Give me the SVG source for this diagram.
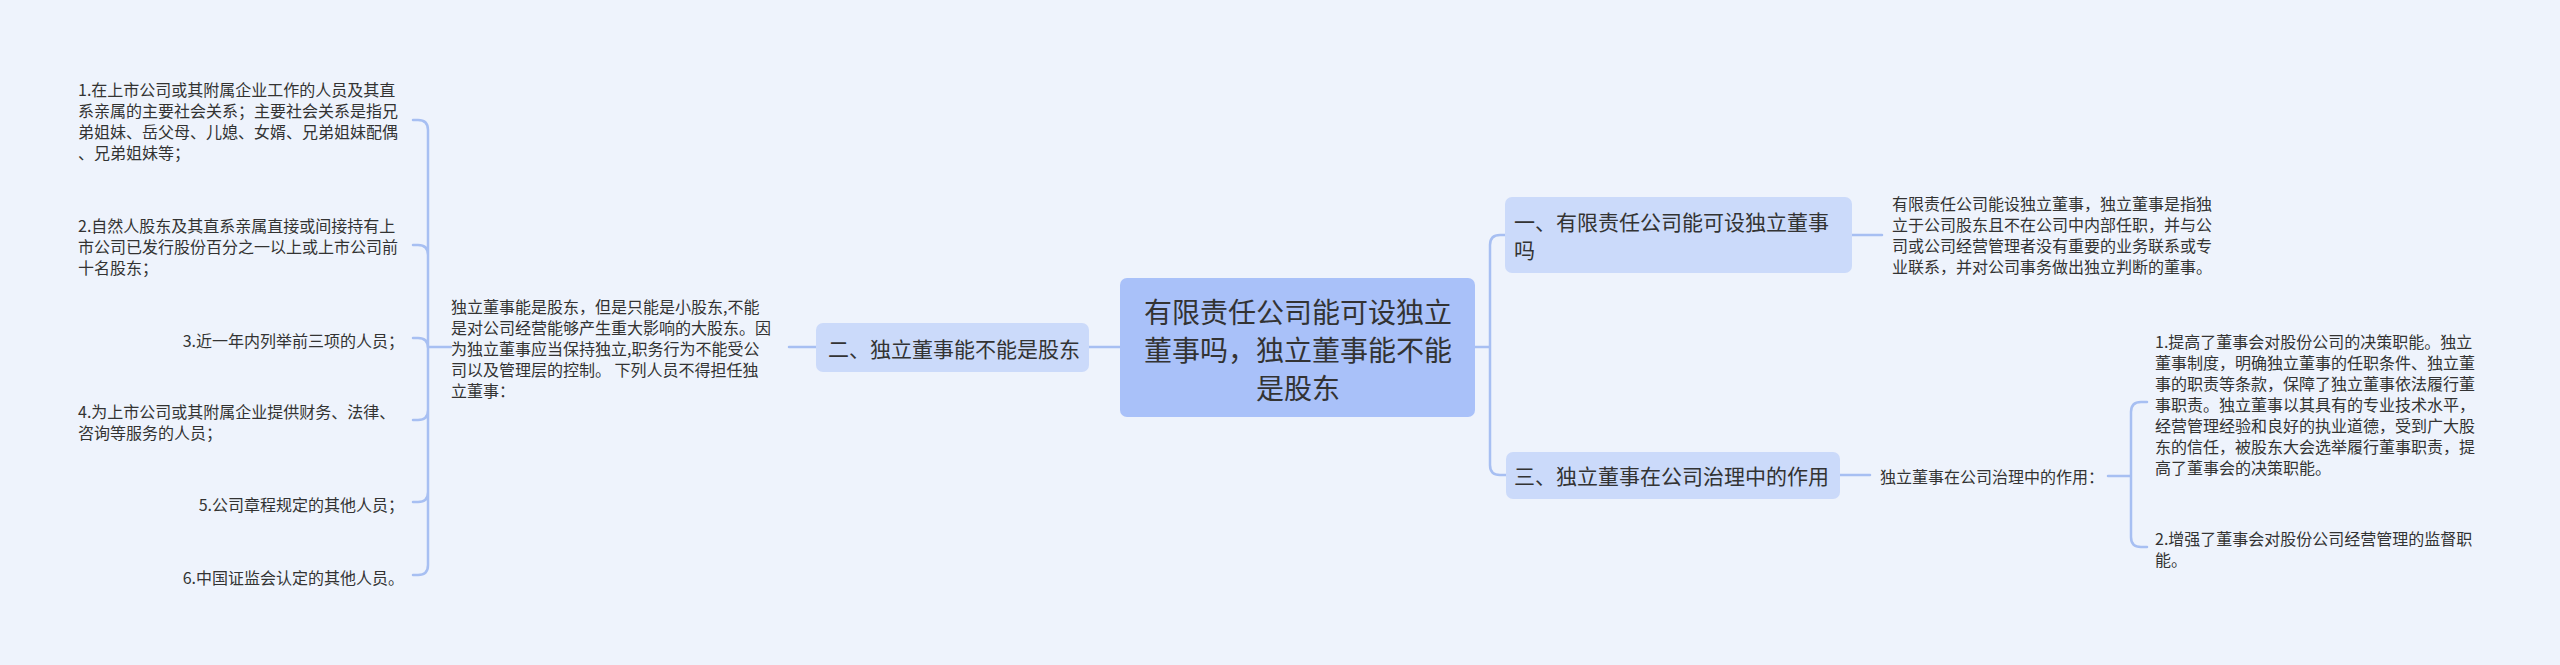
<svg xmlns="http://www.w3.org/2000/svg" width="2560" height="665" viewBox="0 0 2560 665">
<style>
text{font-family:"Noto Sans CJK SC","Noto Sans",sans-serif;fill:#333;dominant-baseline:central}
.c{font-size:28px;text-anchor:middle}
.m{font-size:21px}
.s{font-size:16px}
.e{text-anchor:end}
.ln{fill:none;stroke:#a7bff2;stroke-width:2.5;stroke-linecap:round}
</style>
<rect width="2560" height="665" fill="#eef3fc"/>
<g id="connectors" class="ln">
<path d="M1475 347H1490M1490 347V245Q1490 235 1500 235H1505M1490 347V465Q1490 475 1500 475H1506"/>
<path d="M1852 235H1882"/>
<path d="M1840 475H1870"/>
<path d="M2108 476H2131M2131 476V412Q2131 402 2141 402H2147M2131 476V537Q2131 547 2141 547H2147"/>
<path d="M1120 347H1089"/>
<path d="M816 347H789"/>
<path d="M451 347H428"/>
<path d="M428 347V130Q428 120 418 120H413M428 347V255Q428 245 418 245H413M428 347V348Q428 338 418 338H413M428 347V410Q428 420 418 420H413M428 347V492Q428 502 418 502H413M428 347V565Q428 575 418 575H413"/>
</g>
<g id="center">
<rect x="1120" y="278" width="355" height="139" rx="7" fill="#a9c1f9"/>
<text class="c" x="1298" y="311">有限责任公司能可设独立</text>
<text class="c" x="1298" y="349">董事吗，独立董事能不能</text>
<text class="c" x="1298" y="387">是股东</text>
</g>
<g id="n1">
<rect x="1505" y="197" width="347" height="76" rx="7" fill="#cbdafa"/>
<text class="m" x="1514" y="221">一、有限责任公司能可设独立董事</text>
<text class="m" x="1514" y="249">吗</text>
</g>
<g id="n1d">
<text class="s" x="1892" y="203">有限责任公司能设独立董事，独立董事是指独</text>
<text class="s" x="1892" y="224">立于公司股东且不在公司中内部任职，并与公</text>
<text class="s" x="1892" y="245">司或公司经营管理者没有重要的业务联系或专</text>
<text class="s" x="1892" y="266">业联系，并对公司事务做出独立判断的董事。</text>
</g>
<g id="n3">
<rect x="1506" y="452" width="334" height="47" rx="7" fill="#cbdafa"/>
<text class="m" x="1514" y="475">三、独立董事在公司治理中的作用</text>
</g>
<g id="n3a">
<text class="s" x="1880" y="476">独立董事在公司治理中的作用：</text>
</g>
<g id="n3b">
<text class="s" x="2155" y="341">1.提高了董事会对股份公司的决策职能。独立</text>
<text class="s" x="2155" y="362">董事制度，明确独立董事的任职条件、独立董</text>
<text class="s" x="2155" y="383">事的职责等条款，保障了独立董事依法履行董</text>
<text class="s" x="2155" y="404">事职责。独立董事以其具有的专业技术水平，</text>
<text class="s" x="2155" y="425">经营管理经验和良好的执业道德，受到广大股</text>
<text class="s" x="2155" y="446">东的信任，被股东大会选举履行董事职责，提</text>
<text class="s" x="2155" y="467">高了董事会的决策职能。</text>
</g>
<g id="n3c">
<text class="s" x="2155" y="538">2.增强了董事会对股份公司经营管理的监督职</text>
<text class="s" x="2155" y="559">能。</text>
</g>
<g id="n2">
<rect x="816" y="323" width="273" height="49" rx="7" fill="#cbdafa"/>
<text class="m" x="828" y="348">二、独立董事能不能是股东</text>
</g>
<g id="n2a">
<text class="s" x="451" y="306">独立董事能是股东，但是只能是小股东,不能</text>
<text class="s" x="451" y="327">是对公司经营能够产生重大影响的大股东。因</text>
<text class="s" x="451" y="348">为独立董事应当保持独立,职务行为不能受公</text>
<text class="s" x="451" y="369">司以及管理层的控制。 下列人员不得担任独</text>
<text class="s" x="451" y="390">立董事：</text>
</g>
<g id="i1">
<text class="s" x="78" y="89">1.在上市公司或其附属企业工作的人员及其直</text>
<text class="s" x="78" y="110">系亲属的主要社会关系；主要社会关系是指兄</text>
<text class="s" x="78" y="131">弟姐妹、岳父母、儿媳、女婿、兄弟姐妹配偶</text>
<text class="s" x="78" y="152">、兄弟姐妹等；</text>
</g>
<g id="i2">
<text class="s" x="78" y="225">2.自然人股东及其直系亲属直接或间接持有上</text>
<text class="s" x="78" y="246">市公司已发行股份百分之一以上或上市公司前</text>
<text class="s" x="78" y="267">十名股东；</text>
</g>
<g id="i3"><text class="s e" x="404" y="340">3.近一年内列举前三项的人员；</text></g>
<g id="i4">
<text class="s" x="78" y="411">4.为上市公司或其附属企业提供财务、法律、</text>
<text class="s" x="78" y="432">咨询等服务的人员；</text>
</g>
<g id="i5"><text class="s e" x="404" y="504">5.公司章程规定的其他人员；</text></g>
<g id="i6"><text class="s e" x="404" y="577">6.中国证监会认定的其他人员。</text></g>
</svg>
